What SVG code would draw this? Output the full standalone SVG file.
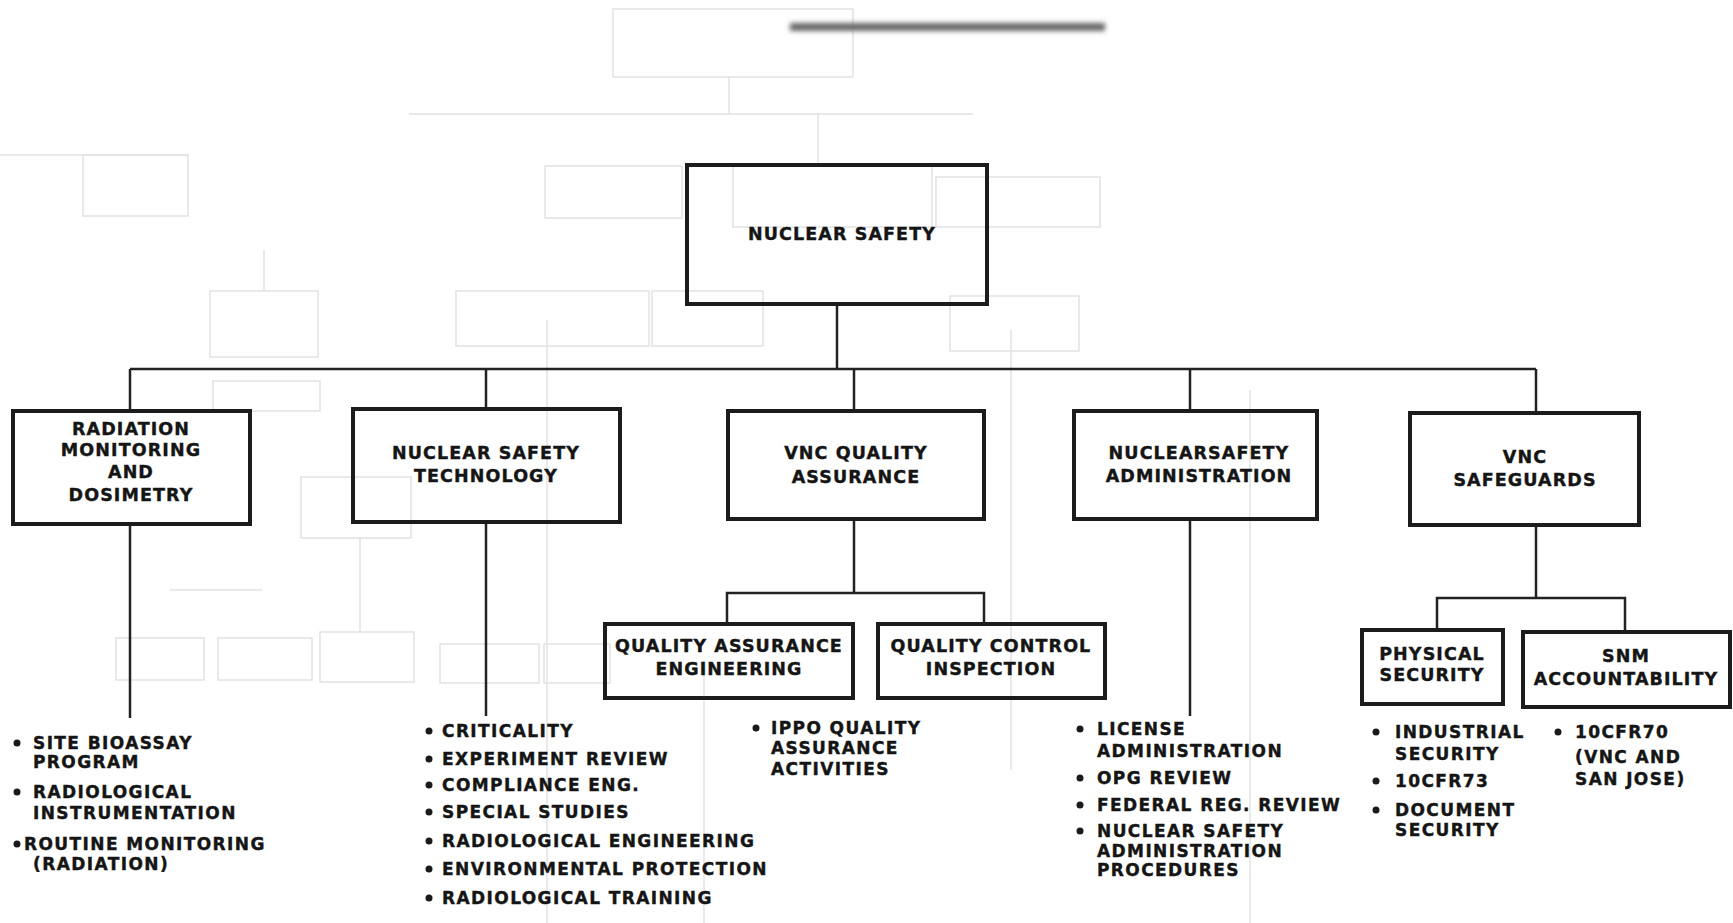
<svg xmlns="http://www.w3.org/2000/svg" width="1733" height="923" viewBox="0 0 1733 923">
<style>
.box{fill:none;stroke:#1c1c1c;stroke-width:4}
.conn{fill:none;stroke:#222;stroke-width:2.5}
.faint{fill:none;stroke:#e2e2e2;stroke-width:1.5}
.lbl{font-family:"DejaVu Sans","Liberation Sans",sans-serif;font-weight:bold;font-size:17.5px;fill:#151515;stroke:#151515;stroke-width:0.4;text-anchor:middle;letter-spacing:1.1px}
.li{font-family:"DejaVu Sans","Liberation Sans",sans-serif;font-weight:bold;font-size:17px;fill:#151515;stroke:#151515;stroke-width:0.4;letter-spacing:1.4px}
.dot{fill:#1a1a1a}
</style>
<defs>
<filter id="blur" filterUnits="userSpaceOnUse" x="760" y="0" width="380" height="60"><feGaussianBlur stdDeviation="2.5"/></filter>
</defs>
<rect width="1733" height="923" fill="#fff"/>
<g id="background">
<rect class="faint" x="613" y="9" width="240" height="68"/>
<rect x="790" y="23" width="315" height="8" fill="#666" filter="url(#blur)"/>
<line class="faint" x1="409" y1="114" x2="973" y2="114"/>
<line class="faint" x1="729" y1="77" x2="729" y2="114"/>
<line class="faint" x1="818" y1="114" x2="818" y2="165"/>
<line class="faint" x1="0" y1="155" x2="188" y2="155"/>
<rect class="faint" x="83" y="155" width="105" height="61"/>
<rect class="faint" x="545" y="166" width="137" height="52"/>
<rect class="faint" x="733" y="166" width="199" height="61"/>
<rect class="faint" x="936" y="177" width="164" height="50"/>
<rect class="faint" x="456" y="291" width="193" height="55"/>
<rect class="faint" x="652" y="291" width="111" height="55"/>
<rect class="faint" x="950" y="296" width="129" height="55"/>
<rect class="faint" x="210" y="291" width="108" height="66"/>
<line class="faint" x1="264" y1="250" x2="264" y2="291"/>
<rect class="faint" x="213" y="381" width="107" height="30"/>
<rect class="faint" x="301" y="477" width="110" height="61"/>
<line class="faint" x1="547" y1="320" x2="547" y2="923"/>
<line class="faint" x1="1011" y1="330" x2="1011" y2="770"/>
<line class="faint" x1="704" y1="660" x2="704" y2="923"/>
<line class="faint" x1="360" y1="538" x2="360" y2="632"/>
<line class="faint" x1="170" y1="590" x2="262" y2="590"/>
<rect class="faint" x="116" y="638" width="88" height="42"/>
<rect class="faint" x="218" y="638" width="94" height="42"/>
<rect class="faint" x="320" y="632" width="94" height="50"/>
<rect class="faint" x="440" y="644" width="99" height="39"/>
<rect class="faint" x="544" y="644" width="66" height="39"/>
<line class="faint" x1="1250" y1="390" x2="1250" y2="923"/>
</g>
<g id="connectors">
<line class="conn" x1="837" y1="304" x2="837" y2="369"/>
<line class="conn" x1="130" y1="369" x2="1536" y2="369"/>
<line class="conn" x1="130" y1="369" x2="130" y2="411"/>
<line class="conn" x1="486" y1="369" x2="486" y2="409"/>
<line class="conn" x1="854" y1="369" x2="854" y2="411"/>
<line class="conn" x1="1190" y1="369" x2="1190" y2="411"/>
<line class="conn" x1="1536" y1="369" x2="1536" y2="413"/>
<line class="conn" x1="130" y1="524" x2="130" y2="718"/>
<line class="conn" x1="486" y1="522" x2="486" y2="716"/>
<line class="conn" x1="1190" y1="519" x2="1190" y2="716"/>
<line class="conn" x1="854" y1="519" x2="854" y2="593"/>
<polyline class="conn" points="727,624 727,593 984,593 984,624"/>
<line class="conn" x1="1536" y1="525" x2="1536" y2="598"/>
<polyline class="conn" points="1437,630 1437,598 1625,598 1625,632"/>
</g>
<g id="n-nuclear-safety">
<rect class="box" x="687" y="165" width="300" height="139"/>
<text class="lbl" x="842" y="240">NUCLEAR SAFETY</text>
</g>
<g id="n-radiation">
<rect class="box" x="13" y="411" width="237" height="113"/>
<text class="lbl" x="131" y="435">RADIATION</text>
<text class="lbl" x="131" y="456">MONITORING</text>
<text class="lbl" x="131" y="478">AND</text>
<text class="lbl" x="131" y="501">DOSIMETRY</text>
</g>
<g id="n-nst">
<rect class="box" x="353" y="409" width="267" height="113"/>
<text class="lbl" x="486" y="459">NUCLEAR SAFETY</text>
<text class="lbl" x="486" y="482">TECHNOLOGY</text>
</g>
<g id="n-vncqa">
<rect class="box" x="728" y="411" width="256" height="108"/>
<text class="lbl" x="856" y="459">VNC QUALITY</text>
<text class="lbl" x="856" y="483">ASSURANCE</text>
</g>
<g id="n-nsa">
<rect class="box" x="1074" y="411" width="243" height="108"/>
<text class="lbl" x="1199" y="459">NUCLEARSAFETY</text>
<text class="lbl" x="1199" y="482">ADMINISTRATION</text>
</g>
<g id="n-safeguards">
<rect class="box" x="1410" y="413" width="229" height="112"/>
<text class="lbl" x="1525" y="463">VNC</text>
<text class="lbl" x="1525" y="486">SAFEGUARDS</text>
</g>
<g id="n-qae">
<rect class="box" x="605" y="624" width="248" height="74"/>
<text class="lbl" x="729" y="652">QUALITY ASSURANCE</text>
<text class="lbl" x="729" y="675">ENGINEERING</text>
</g>
<g id="n-qci">
<rect class="box" x="878" y="624" width="227" height="74"/>
<text class="lbl" x="991" y="652">QUALITY CONTROL</text>
<text class="lbl" x="991" y="675">INSPECTION</text>
</g>
<g id="n-physical">
<rect class="box" x="1362" y="630" width="141" height="74"/>
<text class="lbl" x="1432" y="660">PHYSICAL</text>
<text class="lbl" x="1432" y="681">SECURITY</text>
</g>
<g id="n-snm">
<rect class="box" x="1523" y="632" width="207" height="75"/>
<text class="lbl" x="1626" y="662">SNM</text>
<text class="lbl" x="1626" y="685">ACCOUNTABILITY</text>
</g>
<g id="list-radiation">
<circle class="dot" cx="17" cy="743" r="3.5"/>
<text class="li" x="33" y="749">SITE BIOASSAY</text>
<text class="li" x="33" y="768">PROGRAM</text>
<circle class="dot" cx="17" cy="792" r="3.5"/>
<text class="li" x="33" y="798">RADIOLOGICAL</text>
<text class="li" x="33" y="819">INSTRUMENTATION</text>
<circle class="dot" cx="17" cy="844" r="3.5"/>
<text class="li" x="24" y="850">ROUTINE MONITORING</text>
<text class="li" x="33" y="870">(RADIATION)</text>
</g>
<g id="list-nst">
<circle class="dot" cx="429" cy="731" r="3.5"/>
<text class="li" x="442" y="737">CRITICALITY</text>
<circle class="dot" cx="429" cy="759" r="3.5"/>
<text class="li" x="442" y="765">EXPERIMENT REVIEW</text>
<circle class="dot" cx="429" cy="785" r="3.5"/>
<text class="li" x="442" y="791">COMPLIANCE ENG.</text>
<circle class="dot" cx="429" cy="812" r="3.5"/>
<text class="li" x="442" y="818">SPECIAL STUDIES</text>
<circle class="dot" cx="429" cy="841" r="3.5"/>
<text class="li" x="442" y="847">RADIOLOGICAL ENGINEERING</text>
<circle class="dot" cx="429" cy="869" r="3.5"/>
<text class="li" x="442" y="875">ENVIRONMENTAL PROTECTION</text>
<circle class="dot" cx="429" cy="898" r="3.5"/>
<text class="li" x="442" y="904">RADIOLOGICAL TRAINING</text>
</g>
<g id="list-qa">
<circle class="dot" cx="756" cy="728" r="3.5"/>
<text class="li" x="771" y="734">IPPO QUALITY</text>
<text class="li" x="771" y="754">ASSURANCE</text>
<text class="li" x="771" y="775">ACTIVITIES</text>
</g>
<g id="list-nsa">
<circle class="dot" cx="1080" cy="729" r="3.5"/>
<text class="li" x="1097" y="735">LICENSE</text>
<text class="li" x="1097" y="757">ADMINISTRATION</text>
<circle class="dot" cx="1080" cy="778" r="3.5"/>
<text class="li" x="1097" y="784">OPG REVIEW</text>
<circle class="dot" cx="1080" cy="805" r="3.5"/>
<text class="li" x="1097" y="811">FEDERAL REG. REVIEW</text>
<circle class="dot" cx="1080" cy="831" r="3.5"/>
<text class="li" x="1097" y="837">NUCLEAR SAFETY</text>
<text class="li" x="1097" y="857">ADMINISTRATION</text>
<text class="li" x="1097" y="876">PROCEDURES</text>
</g>
<g id="list-physical">
<circle class="dot" cx="1376" cy="732" r="3.5"/>
<text class="li" x="1395" y="738">INDUSTRIAL</text>
<text class="li" x="1395" y="760">SECURITY</text>
<circle class="dot" cx="1376" cy="781" r="3.5"/>
<text class="li" x="1395" y="787">10CFR73</text>
<circle class="dot" cx="1376" cy="810" r="3.5"/>
<text class="li" x="1395" y="816">DOCUMENT</text>
<text class="li" x="1395" y="836">SECURITY</text>
</g>
<g id="list-snm">
<circle class="dot" cx="1558" cy="732" r="3.5"/>
<text class="li" x="1575" y="738">10CFR70</text>
<text class="li" x="1575" y="763">(VNC AND</text>
<text class="li" x="1575" y="785">SAN JOSE)</text>
</g>
</svg>
